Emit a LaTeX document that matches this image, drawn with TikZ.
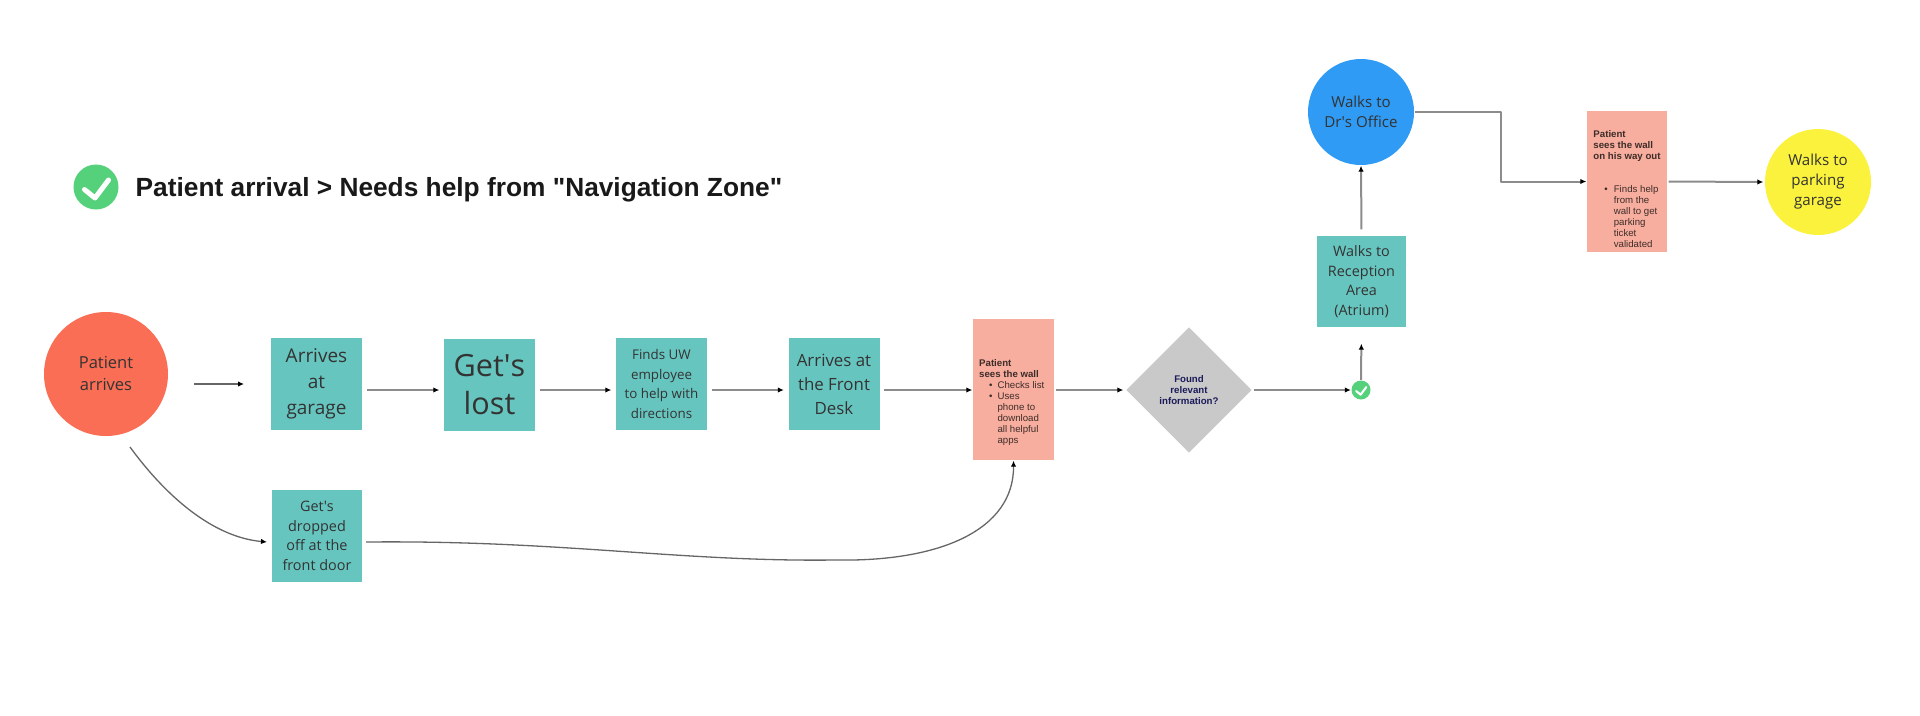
\documentclass[tikz,border=0pt]{standalone}
\usepackage{fontspec}
\setmainfont{Open Sans}
\newfontfamily\wallfont{Liberation Sans}
\usetikzlibrary{arrows.meta,shapes.geometric}
\definecolor{zoneteal}{HTML}{67C5BF}
\definecolor{startred}{HTML}{F96E55}
\definecolor{officeblue}{HTML}{2F9BF4}
\definecolor{parkyellow}{HTML}{FAF23C}
\definecolor{wallpink}{HTML}{F7AE9F}
\definecolor{foundgray}{HTML}{C9C9C9}
\definecolor{tickgreen}{HTML}{55D17C}
\definecolor{foundnavy}{HTML}{1B1B5A}
\tikzset{
  zonebox/.style={rectangle, fill=zoneteal, text=black!80, align=center, inner sep=0pt,
    minimum width=0.91cm, minimum height=0.92cm, font=\fontsize{4.1}{5.55}\selectfont},
  wallbox/.style={rectangle, fill=wallpink, text=black!75!wallpink, align=left, inner sep=0pt,
    minimum width=0.81cm, minimum height=1.41cm, font=\wallfont\fontsize{2.75}{3.13}\selectfont},
  roundstop/.style={circle, text=black!80, align=center, inner sep=0pt,
    minimum size=1.06cm, font=\fontsize{4.3}{5.7}\selectfont},
  ticknode/.style={circle, fill=tickgreen, inner sep=0pt},
  flow/.style={->, draw=black!45, line width=0.02cm, shorten <=0.04cm, shorten >=0.04cm},
  thinflow/.style={->, draw=black!60, line width=0.013cm}
}
\begin{document}
\begin{tikzpicture}[>={Latex[black,length=0.06cm,width=0.055cm]}]
    \useasboundingbox (0,0) rectangle (19.2,7.15);

    % Title
    \node[ticknode, minimum size=0.45cm] (titletick) at (0.96,5.28) {};
    \node[anchor=west, inner sep=0pt, font=\wallfont\bfseries\fontsize{7.48}{9}\selectfont, text=black!90] (title) at (1.35,5.25)
        {Patient arrival > Needs help from "Navigation Zone"};

    % Main row
    \node[roundstop, fill=startred, minimum size=1.24cm, font=\fontsize{4.7}{6.26}\selectfont] (arrives) at (1.06,3.41) {Patient\\arrives};
    \node[zonebox, font=\fontsize{5.4}{7.4}\selectfont] (garage) at (3.165,3.31) {Arrives\\at\\garage};
    \node[zonebox, font=\fontsize{8.7}{10.8}\selectfont] (lost) at (4.895,3.305) {Get\textquotesingle s\\lost};
    \node[zonebox, font=\fontsize{3.8}{5.55}\selectfont] (employee) at (6.615,3.31) {Finds UW\\employee\\to help with\\directions};
    \node[zonebox, font=\fontsize{4.8}{6.8}\selectfont] (desk) at (8.34,3.31) {Arrives at\\the Front\\Desk};
    \node[wallbox] (wall) at (10.135,3.255) {\rule{0pt}{0.34cm}\textbf{Patient}\\\textbf{sees the wall}\\
        \begin{tabular}{@{\hspace{0.1cm}}l@{\hspace{0.05cm}}l@{\hspace{0.035cm}}}
            \textbullet & Checks list\\
            \textbullet & Uses\\
            & phone to\\
            & download\\
            & all helpful\\
            & apps
        \end{tabular}};
    \node[diamond, aspect=1, fill=foundgray, text=foundnavy, align=center, inner sep=0pt, minimum size=1.26cm,
        font=\wallfont\bfseries\fontsize{2.75}{3.13}\selectfont] (found) at (11.89,3.25) {Found\\relevant\\information?};
    \node[ticknode, minimum size=0.19cm] (done) at (13.61,3.25) {};

    % Right part
    \node[zonebox, minimum width=0.89cm, minimum height=0.91cm] (reception) at (13.615,4.335) {Walks to\\Reception\\Area\\(Atrium)};
    \node[roundstop, fill=officeblue] (office) at (13.61,6.03) {Walks to\\Dr\textquotesingle s Office};
    \node[wallbox, minimum width=0.80cm] (wallout) at (16.27,5.335) {\rule{0pt}{0.26cm}\textbf{Patient}\\\textbf{sees the wall}\\\textbf{on his way out}\\[0.20cm]
        \begin{tabular}{@{\hspace{0.11cm}}l@{\hspace{0.06cm}}l@{}}
            \textbullet & Finds help\\
            & from the\\
            & wall to get\\
            & parking\\
            & ticket\\
            & validated
        \end{tabular}};
    \node[roundstop, fill=parkyellow] (parking) at (18.18,5.33) {Walks to\\parking\\garage};

    % Lower box
    \node[zonebox, minimum width=0.90cm] (dropped) at (3.17,1.79) {Get\textquotesingle s\\dropped\\off at the\\front door};

    % Tick marks
    \foreach \spot/\size in {titletick/1, done/0.42}
        \draw[white, line width=\size*0.05cm, line cap=round, line join=round]
            ([shift={(-0.115*\size,-0.025*\size)}]\spot.center) -- ([shift={(-0.01*\size,-0.11*\size)}]\spot.center) -- ([shift={(0.125*\size,0.07*\size)}]\spot.center);

    % Free ends
    \coordinate (lane) at (0,3.25);
    \coordinate (arrivefrom) at (1.94,3.31);
    \coordinate (arriveto) at (2.44,3.31);
    \coordinate (turn) at (15.01,5.5);
    \coordinate (dropfrom) at (1.30,2.68);
    \coordinate (dropto) at (2.67,1.73);
    \coordinate (curvefrom) at (3.66,1.73);
    \coordinate (curvemid) at (8.35,1.55);

    % Connectors
    \draw[thinflow] (arrivefrom) -- (arriveto);
    \draw[flow] (garage.east |- lane) -- (lost.west |- lane);
    \draw[flow] (lost.east |- lane) -- (employee.west |- lane);
    \draw[flow] (employee.east |- lane) -- (desk.west |- lane);
    \draw[flow, shorten >=0pt] (desk.east |- lane) -- (wall.west |- lane);
    \draw[flow, shorten <=0.01cm, shorten >=0.02cm] (wall.east |- lane) -- (found.west);
    \draw[flow, shorten <=0.01cm, shorten >=0pt] (found.east) -- (done.west);
    \draw[flow, shorten <=0pt, shorten >=0.16cm] (done.north) -- (reception.south);
    \draw[flow, shorten <=0.06cm, shorten >=0pt] (reception.north) -- (office.south);
    \draw[flow, line join=round, shorten <=0pt, shorten >=0pt] (office.east) -| (turn) |- (wallout.west);
    \draw[flow, shorten <=0.01cm, shorten >=0.01cm] (wallout.east) -- (parking.west);
    \draw[thinflow] (dropfrom) .. controls (1.65,2.20) and (2.12,1.78) .. (dropto);
    \draw[thinflow] (curvefrom) .. controls (5.6,1.75) and (6.8,1.53) .. (curvemid)
        .. controls (9.4,1.53) and (10.14,1.85) .. (wall.south);
\end{tikzpicture}
\end{document}
